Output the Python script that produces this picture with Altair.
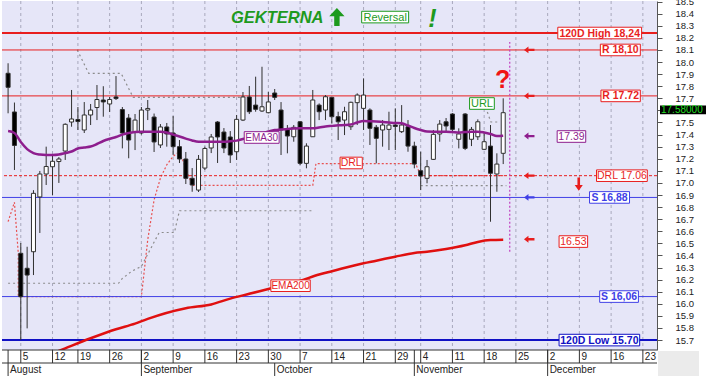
import altair as alt
import pandas as pd

FONT = "Liberation Sans"

# ---------------- data ----------------
# x = trading-day index, 0 = Thu 1 Aug 2019 (15 Aug and 28 Oct closed)
WEEK_IDX = [2, 7, 11, 16, 21, 26, 31, 36, 41, 46, 51, 56, 61, 65, 70, 75, 80, 85, 90, 95, 100]
WEEK_LABELS = ["5", "12", "19", "26", "2", "9", "16", "23", "30", "7", "14", "21",
               "29", "4", "11", "18", "25", "2", "9", "16", "23"]
MONTH_IDX = [0, 21, 42, 64, 85]
MONTH_LABELS = ["August", "September", "October", "November", "December"]
MONTH_SEP_FULL = [True, True, False, True, True]

OPEN = [17.907, 17.587, 16.418, 16.294, 16.431, 16.884, 17.074, 17.134, 17.177, 17.264,
        17.504, 17.525, 17.438, 17.562, 17.624, 17.686, 17.653, 17.711, 17.607, 17.537,
        17.421, 17.413, 17.603, 17.545, 17.314, 17.463, 17.413, 17.30, 17.198, 17.038,
        16.941, 17.123, 17.289, 17.504, 17.421, 17.38, 17.258, 17.52, 17.711, 17.644,
        17.595, 17.581, 17.744, 17.603, 17.443, 17.382, 17.506, 17.162, 17.382, 17.644,
        17.603, 17.708, 17.548, 17.52, 17.465, 17.664, 17.617, 17.603, 17.46, 17.438,
        17.443, 17.479, 17.424, 17.465, 17.305, 17.101, 17.038, 17.195, 17.405, 17.506,
        17.57, 17.361, 17.57, 17.361, 17.382, 17.278, 17.305, 17.074, 17.245]
HIGH = [17.99, 17.665, 16.503, 16.472, 16.94, 17.099, 17.30, 17.231, 17.214, 17.493,
        17.769, 17.628, 17.669, 17.653, 17.81, 17.80, 17.711, 17.884, 17.628, 17.57,
        17.57, 17.628, 17.686, 17.574, 17.487, 17.496, 17.553, 17.355, 17.256, 17.123,
        17.231, 17.30, 17.405, 17.512, 17.454, 17.429, 17.562, 17.752, 17.802, 17.879,
        17.961, 17.752, 17.777, 17.669, 17.479, 17.479, 17.512, 17.328, 17.769, 17.658,
        17.727, 17.713, 17.589, 17.63, 17.672, 17.741, 17.865, 17.617, 17.479, 17.52,
        17.589, 17.617, 17.644, 17.52, 17.341, 17.258, 17.19, 17.438, 17.52, 17.537,
        17.578, 17.452, 17.578, 17.463, 17.526, 17.413, 17.479, 17.245, 17.70]
LOW = [17.576, 17.107, 15.70, 15.797, 16.238, 16.586, 16.983, 16.90, 17.0, 17.19,
       17.465, 17.438, 17.413, 17.479, 17.52, 17.548, 17.587, 17.686, 17.286, 17.204,
       17.272, 17.40, 17.52, 17.256, 17.289, 17.30, 17.231, 17.165, 16.991, 16.927,
       16.925, 17.107, 17.247, 17.165, 17.247, 17.165, 17.19, 17.512, 17.57, 17.589,
       17.587, 17.576, 17.686, 17.231, 17.245, 17.341, 17.148, 17.121, 17.38, 17.52,
       17.52, 17.493, 17.355, 17.396, 17.438, 17.479, 17.438, 17.314, 17.162, 17.30,
       17.272, 17.272, 17.413, 17.258, 17.121, 16.941, 16.997, 17.19, 17.341, 17.413,
       17.421, 17.286, 17.272, 17.305, 17.355, 17.272, 16.679, 16.927, 17.156]
CLOSE = [17.791, 17.31, 16.059, 16.238, 16.914, 17.074, 17.136, 17.179, 17.198, 17.485,
         17.529, 17.508, 17.562, 17.603, 17.69, 17.67, 17.69, 17.698, 17.413, 17.355,
         17.52, 17.603, 17.616, 17.339, 17.463, 17.405, 17.30, 17.198, 17.038, 16.983,
         17.195, 17.285, 17.38, 17.38, 17.289, 17.231, 17.526, 17.711, 17.589, 17.609,
         17.63, 17.67, 17.708, 17.438, 17.388, 17.46, 17.162, 17.305, 17.686, 17.589,
         17.713, 17.548, 17.506, 17.589, 17.667, 17.727, 17.727, 17.452, 17.369, 17.479,
         17.479, 17.467, 17.479, 17.305, 17.156, 17.057, 17.134, 17.402, 17.487, 17.471,
         17.443, 17.405, 17.286, 17.443, 17.506, 17.341, 17.08, 17.156, 17.581]

EMA30 = [17.429, 17.413, 17.338, 17.28, 17.247, 17.235, 17.231, 17.231, 17.235, 17.247,
         17.26, 17.285, 17.293, 17.301, 17.322, 17.347, 17.365, 17.38, 17.40, 17.413,
         17.421, 17.424, 17.424, 17.424, 17.424, 17.417, 17.40, 17.384, 17.367, 17.351,
         17.341, 17.341, 17.341, 17.341, 17.341, 17.345, 17.35, 17.363, 17.38, 17.392,
         17.409, 17.425, 17.438, 17.442, 17.446, 17.45, 17.452, 17.452, 17.452, 17.458,
         17.467, 17.472, 17.477, 17.479, 17.483, 17.50, 17.512, 17.51, 17.508, 17.504,
         17.50, 17.496, 17.493, 17.475, 17.454, 17.438, 17.425, 17.424, 17.424, 17.424,
         17.421, 17.417, 17.421, 17.424, 17.424, 17.417, 17.405, 17.388, 17.39]

EMA200_IDX = [7, 9, 13, 17, 20, 22, 28, 32, 35, 38, 41, 46, 49, 51, 56, 58, 61, 64,
              66, 69, 72, 74, 76, 78]
EMA200 = [15.59, 15.632, 15.715, 15.79, 15.836, 15.875, 15.963, 15.995, 16.043, 16.083,
          16.123, 16.19, 16.243, 16.27, 16.336, 16.357, 16.39, 16.42, 16.43, 16.453,
          16.484, 16.512, 16.527, 16.53]

DRL_IDX = [0, 1, 1.6, 1.6, 21, 22, 23, 24, 25, 26, 27, 28, 29, 48, 48.5, 64.2, 65, 78]
DRL_VAL = [16.68, 16.84, 16.42, 16.06, 16.06, 16.53, 16.86, 17.04, 17.15, 17.22, 17.26,
           17.12, 16.98, 16.98, 17.16, 17.16, 17.06, 17.06]

URL_IDX = [10.9, 12.7, 17.8, 19.7, 37.5, 75.5, 76.05, 77.35]
URL_VAL = [18.10, 17.907, 17.907, 17.708, 17.708, 17.587, 17.504, 17.504]
URL_SEG = [0, 0, 0, 0, 0, 1, 1, 1]

SUP_IDX = [0, 17.4, 18, 19.5, 21, 22.4, 23.8, 26.2, 27, 48, 65, 78.5]
SUP_VAL = [16.17, 16.17, 16.21, 16.27, 16.31, 16.45, 16.59, 16.59, 16.77, 16.77, 16.977, 16.977]
SUP_SEG = [0, 0, 0, 0, 0, 0, 0, 0, 0, 0, 1, 1]

LEVEL_VALUES = [18.24, 18.10, 17.72, 17.06, 16.88, 16.06, 15.70]
LEVEL_TEXTS = ["120D High 18,24", "R 18,10", "R 17.72", "DRL 17.06", "S 16,88", "S 16,06",
               "120D Low 15.70"]
LAST_CLOSE_TEXT = "17.58000"
EMA30_LAST_TEXT = "17.39"
EMA200_LAST_TEXT = "16.53"

Y_TICKS = [15.7, 15.8, 15.9, 16.0, 16.1, 16.2, 16.3, 16.4, 16.5, 16.6, 16.7, 16.8, 16.9,
           17.0, 17.1, 17.2, 17.3, 17.4, 17.5, 17.6, 17.7, 17.8, 17.9, 18.0, 18.1, 18.2,
           18.3, 18.4, 18.5]
HIDDEN_TICK_LABEL = 17.6   # covered by the last-price tag in the original

# ---------------- styling / layout ----------------
RED = "#E81E1E"
BLUE = "#4040E6"
DBLUE = "#1010C4"
PURPLE = "#8E1E8E"
GREEN = "#1E9A1E"
W, H = 655, 349
XS = alt.Scale(domain=[-0.172, 101.44], nice=False, zero=False)
YS = alt.Scale(domain=[15.618, 18.505], nice=False, zero=False)

YAXIS = alt.Axis(orient="right", values=Y_TICKS, title=None, grid=False,
                 labelExpr=f"abs(datum.value - {HIDDEN_TICK_LABEL}) < 0.01 ? '' : format(datum.value, '.1f')",
                 domainColor="#555555", tickColor="#555555", tickSize=5,
                 labelFont=FONT, labelFontSize=9.5, labelColor="#222222", labelPadding=13,
                 labelOverlap=False, labelFlush=False)


def X(f="i"):
    return alt.X(f"{f}:Q", scale=XS, axis=None)


def Y(f="v"):
    return alt.Y(f"{f}:Q", scale=YS, axis=YAXIS, title=None)


n = len(OPEN)
cdf = pd.DataFrame({"i": list(range(n)), "open": OPEN, "high": HIGH, "low": LOW, "close": CLOSE})
cdf["top"] = cdf[["open", "close"]].max(axis=1)
cdf["bot"] = cdf[["open", "close"]].min(axis=1)
cdf["fill"] = ["#FFFFFF" if c >= o else "#000000" for o, c in zip(OPEN, CLOSE)]

layers = []

# vertical weekly grid
wdf = pd.DataFrame({"i": WEEK_IDX, "t": WEEK_LABELS})
layers.append(alt.Chart(wdf).mark_rule(color="#A8A8BC", strokeDash=[3, 3], strokeWidth=1)
              .encode(x=X()))

# gray dotted trailing lines
udf = pd.DataFrame({"i": URL_IDX, "v": URL_VAL, "s": URL_SEG})
sdf = pd.DataFrame({"i": SUP_IDX, "v": SUP_VAL, "s": SUP_SEG})
for d in (udf, sdf):
    layers.append(alt.Chart(d).mark_line(color="#8C8C8C", strokeDash=[2, 3], strokeWidth=1.2,
                                         clip=True)
                  .encode(x=X(), y=Y(), detail="s:N", order="i:Q"))

# DRL trailing line (red dotted)
ddf = pd.DataFrame({"i": DRL_IDX, "v": DRL_VAL, "o": list(range(len(DRL_IDX)))})
layers.append(alt.Chart(ddf).mark_line(color="#E85050", strokeDash=[2, 2], strokeWidth=1.2,
                                       clip=True, interpolate="linear")
              .encode(x=X(), y=Y(), order="o:Q"))

# horizontal levels
ldf = pd.DataFrame({"v": LEVEL_VALUES, "t": LEVEL_TEXTS,
                    "c": [RED, RED, RED, RED, BLUE, BLUE, DBLUE],
                    "w": [2, 1, 1, 1, 1, 1, 2],
                    "dash": [0, 0, 0, 1, 0, 0, 0]})
layers.append(alt.Chart(ldf[ldf.dash == 0]).mark_rule()
              .encode(y=Y(), color=alt.Color("c:N", scale=None),
                      strokeWidth=alt.StrokeWidth("w:Q", scale=None)))
layers.append(alt.Chart(ldf[ldf.dash == 1]).mark_rule(strokeDash=[3, 2])
              .encode(y=Y(), color=alt.Color("c:N", scale=None)))

# candles
layers.append(alt.Chart(cdf).mark_rule(color="#303030", strokeWidth=1, clip=True)
              .encode(x=X(), y=Y("low"), y2=alt.Y2("high")))
layers.append(alt.Chart(cdf).mark_bar(size=4, stroke="#303030", strokeWidth=1, clip=True)
              .encode(x=X(), y=Y("bot"), y2=alt.Y2("top"),
                      fill=alt.Fill("fill:N", scale=None)))

# EMAs
e30 = pd.DataFrame({"i": list(range(len(EMA30))), "v": EMA30})
e200 = pd.DataFrame({"i": EMA200_IDX, "v": EMA200})
layers.append(alt.Chart(e200).mark_line(color="#E01010", strokeWidth=2.5, clip=True,
                                        interpolate="monotone")
              .encode(x=X(), y=Y()))
layers.append(alt.Chart(e30).mark_line(color=PURPLE, strokeWidth=2.5, clip=True,
                                       interpolate="monotone")
              .encode(x=X(), y=Y()))

# vertical dotted "today" line
vdf = pd.DataFrame({"i": [79.03], "y0": [16.43], "y1": [18.166]})
layers.append(alt.Chart(vdf).mark_rule(color="#C040C0", strokeDash=[2, 2], strokeWidth=1.2)
              .encode(x=X(), y=Y("y0"), y2=alt.Y2("y1")))

# ---------------- annotation boxes ----------------
HB = 0.048
box_rows = [
    # text, x0, x1, value, colour, bold, size
    (LEVEL_TEXTS[0], 86.6, 99.8, 18.24, RED, True, 10.5),
    (LEVEL_TEXTS[1], 93.3, 99.6, 18.10, RED, True, 10.5),
    (LEVEL_TEXTS[2], 93.4, 99.6, 17.72, RED, True, 10.5),
    (LEVEL_TEXTS[3], 92.7, 100.7, 17.06, RED, False, 10.5),
    (LEVEL_TEXTS[4], 91.6, 97.9, 16.88, BLUE, True, 10.5),
    (LEVEL_TEXTS[5], 93.2, 99.3, 16.06, BLUE, True, 10.5),
    (LEVEL_TEXTS[6], 86.8, 99.5, 15.70, DBLUE, True, 10.5),
    (EMA30_LAST_TEXT, 86.5, 91.0, 17.384, PURPLE, False, 10.5),
    (EMA200_LAST_TEXT, 86.8, 91.3, 16.515, RED, False, 10.5),
    ("URL", 72.7, 76.6, 17.657, GREEN, False, 11),
    ("DRL", 52.3, 55.8, 17.165, RED, False, 10.5),
    ("EMA30", 37.2, 42.7, 17.376, PURPLE, False, 10),
    ("EMA200", 41.4, 47.6, 16.15, RED, False, 10),
    ("Reversal", 55.7, 63.1, 18.372, GREEN, False, 11),
]
bdf = pd.DataFrame(box_rows, columns=["t", "x0", "x1", "v", "c", "b", "fs"])
bdf["xc"] = (bdf.x0 + bdf.x1) / 2
bdf["y0"] = bdf.v - HB
bdf["y1"] = bdf.v + HB
layers.append(alt.Chart(bdf).mark_rect(fill="white", strokeWidth=1)
              .encode(x=X("x0"), x2=alt.X2("x1"), y=Y("y0"), y2=alt.Y2("y1"),
                      stroke=alt.Stroke("c:N", scale=None)))
for bold in (True, False):
    sub = bdf[bdf.b == bold]
    layers.append(alt.Chart(sub).mark_text(font=FONT, fontWeight="bold" if bold else "normal",
                                           align="center", baseline="middle", dy=0.5)
                  .encode(x=X("xc"), y=Y(), text="t:N",
                          color=alt.Color("c:N", scale=None),
                          size=alt.Size("fs:Q", scale=None)))

# arrows
LEFT_ARROW = "M-1,0L-0.15,-0.65L-0.15,-0.22L1,-0.22L1,0.22L-0.15,0.22L-0.15,0.65Z"
adf = pd.DataFrame({"i": [82.1] * 6,
                    "v": [18.10, 17.72, 17.388, 17.06, 16.88, 16.534],
                    "c": [RED, RED, PURPLE, RED, BLUE, RED]})
layers.append(alt.Chart(adf).mark_point(shape=LEFT_ARROW, filled=True, size=110, opacity=1,
                                        strokeWidth=0)
              .encode(x=X(), y=Y(), color=alt.Color("c:N", scale=None)))
DOWN_ARROW = "M0,1L-0.62,0.15L-0.2,0.15L-0.2,-1L0.2,-1L0.2,0.15L0.62,0.15Z"
layers.append(alt.Chart(pd.DataFrame({"i": [89.9], "v": [16.99]}))
              .mark_point(shape=DOWN_ARROW, filled=True, size=170, opacity=1, strokeWidth=0,
                          color=RED)
              .encode(x=X(), y=Y()))
UP_ARROW = "M0,-1L-0.85,-0.1L-0.3,-0.1L-0.3,1L0.3,1L0.3,-0.1L0.85,-0.1Z"
layers.append(alt.Chart(pd.DataFrame({"i": [51.8], "v": [18.372]}))
              .mark_point(shape=UP_ARROW, filled=True, size=324, opacity=1, strokeWidth=0,
                          color=GREEN)
              .encode(x=X(), y=Y()))

# title texts
layers.append(alt.Chart(pd.DataFrame({"i": [42.4], "v": [18.32], "t": ["GEKTERNA"]}))
              .mark_text(font=FONT, fontSize=16.5, fontWeight="bold", fontStyle="italic",
                         color=GREEN, align="center", baseline="alphabetic")
              .encode(x=X(), y=Y(), text="t:N"))
layers.append(alt.Chart(pd.DataFrame({"i": [66.85], "v": [18.292], "t": ["!"]}))
              .mark_text(font=FONT, fontSize=25, fontWeight="bold", fontStyle="italic",
                         color=GREEN, align="center", baseline="alphabetic")
              .encode(x=X(), y=Y(), text="t:N"))
layers.append(alt.Chart(pd.DataFrame({"i": [77.9], "v": [17.783], "t": ["?"]}))
              .mark_text(font=FONT, fontSize=25, fontWeight="bold",
                         color="#F01414", align="center", baseline="alphabetic")
              .encode(x=X(), y=Y(), text="t:N"))

# ---------------- x axis band ----------------
one = pd.DataFrame({"k": [0]})
AX = "#333333"
for yy in (H, H + 13):
    layers.append(alt.Chart(one).mark_rule(color=AX, strokeWidth=1)
                  .encode(x=alt.value(0), x2=alt.value(W), y=alt.value(yy)))
layers.append(alt.Chart(wdf).mark_rule(color=AX, strokeWidth=1)
              .encode(x=X(), y=alt.value(H), y2=alt.value(H + 13)))
layers.append(alt.Chart(wdf).mark_text(font=FONT, fontSize=10, color="#222222", align="left",
                                       baseline="middle", dx=2)
              .encode(x=X(), y=alt.value(H + 7), text="t:N"))
mdf = pd.DataFrame({"i": MONTH_IDX, "t": MONTH_LABELS,
                    "ytop": [H if f else H + 13 for f in MONTH_SEP_FULL]})
layers.append(alt.Chart(mdf).mark_rule(color=AX, strokeWidth=1)
              .encode(x=X(), y=alt.Y("ytop:Q", scale=None), y2=alt.value(H + 26)))
layers.append(alt.Chart(mdf).mark_text(font=FONT, fontSize=10, color="#222222", align="left",
                                       baseline="middle", dx=2)
              .encode(x=X(), y=alt.value(H + 20), text="t:N"))
layers.append(alt.Chart(one).mark_rect(color="#EBEBEB")
              .encode(x=alt.value(W + 1), x2=alt.value(W + 42), y=alt.value(H + 1),
                      y2=alt.value(H + 26)))

# last price tag
tdf = pd.DataFrame({"v": [17.605], "y0": [17.605 - 0.036], "y1": [17.605 + 0.036],
                    "t": [LAST_CLOSE_TEXT]})
layers.append(alt.Chart(tdf).mark_rect(color="#000000")
              .encode(x=alt.value(W + 3), x2=alt.value(W + 49), y=Y("y0"), y2=alt.Y2("y1")))
layers.append(alt.Chart(tdf).mark_text(font=FONT, fontSize=10, color="#22DD22", align="left",
                                       baseline="middle", dy=0.5)
              .encode(x=alt.value(W + 4), y=Y(), text="t:N"))

chart = (alt.layer(*layers)
         .properties(width=W, height=H, background="white",
                     padding={"left": 2, "top": 1, "right": 49, "bottom": 37},
                     autosize=alt.AutoSizeParams(type="none"))
         .configure_view(fill="#E6E6F8", stroke=None))

chart.save("out.html", embed_options={"renderer": "svg", "actions": False})
